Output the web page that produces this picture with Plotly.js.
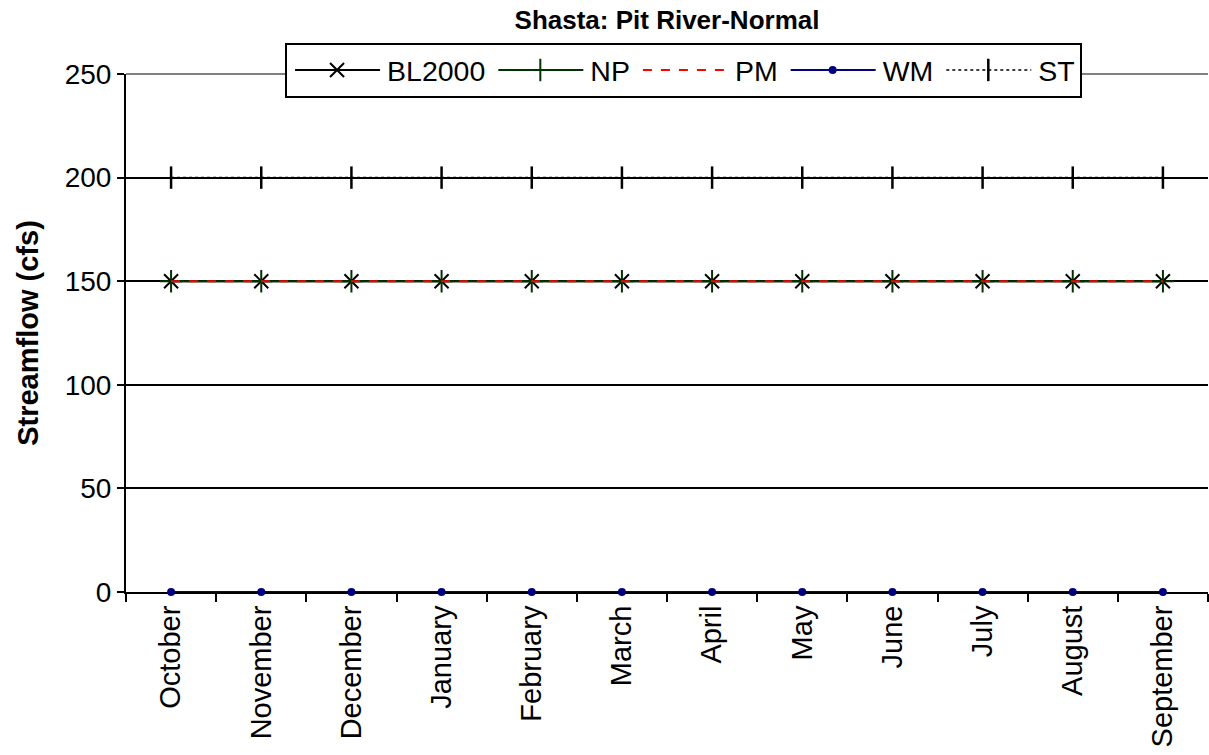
<!DOCTYPE html>
<html>
<head>
<meta charset="utf-8">
<script src="https://cdn.plot.ly/plotly-3.0.1.min.js"></script>
<style>html,body{margin:0;padding:0;background:#fff;}#chart{width:1209px;height:755px;}</style>
</head>
<body>
<div id="chart"></div>
<script>
var months = ["October","November","December","January","February","March","April","May","June","July","August","September"];
var BL2000 = [150,150,150,150,150,150,150,150,150,150,150,150];
var NP     = [150,150,150,150,150,150,150,150,150,150,150,150];
var PM     = [150,150,150,150,150,150,150,150,150,150,150,150];
var WM     = [0,0,0,0,0,0,0,0,0,0,0,0];
var ST     = [200,200,200,200,200,200,200,200,200,200,200,200];

var baseFont = "Liberation Sans, Arial, sans-serif";

var traces = [
  {name: "BL2000", x: months, y: BL2000, mode: "lines+markers", type: "scatter",
   line: {color: "#000000", width: 2},
   marker: {symbol: "x-thin", size: 14, line: {color: "#000000", width: 2}, color: "#000000"}},
  {name: "NP", x: months, y: NP, mode: "lines+markers", type: "scatter",
   line: {color: "#003300", width: 2},
   marker: {symbol: "cross-thin", size: 16, line: {color: "#003300", width: 2}, color: "#003300"}},
  {name: "PM", x: months, y: PM, mode: "lines", type: "scatter",
   line: {color: "#ff0000", width: 2, dash: "dash"}},
  {name: "WM", x: months, y: WM, mode: "lines+markers", type: "scatter", cliponaxis: false,
   line: {color: "#000080", width: 2},
   marker: {symbol: "circle", size: 8, color: "#000080"}},
  {name: "ST", x: months, y: ST, mode: "lines+markers", type: "scatter",
   line: {color: "#000000", width: 1.5, dash: "dot"},
   marker: {symbol: "line-ns", size: 16, line: {color: "#000000", width: 2.5}, color: "#000000"}}
];

var layout = {
  width: 1209, height: 755,
  margin: {l: 126, r: 1, t: 74, b: 163, pad: 0},
  paper_bgcolor: "#ffffff", plot_bgcolor: "#ffffff",
  font: {family: baseFont, color: "#000"},
  title: {text: "<b>Shasta: Pit River-Normal</b>", x: 0.5, xref: "paper", y: 0.973, yref: "container", yanchor: "middle",
          font: {family: baseFont, size: 26, color: "#000"}},
  showlegend: true,
  legend: {orientation: "h", x: 0.147, xanchor: "left", y: 1.06, yanchor: "top",
           bordercolor: "#000", borderwidth: 2, bgcolor: "#fff",
           font: {family: baseFont, size: 28.5, color: "#000"},
           itemwidth: 90, traceorder: "normal", tracegroupgap: 0},
  xaxis: {type: "category", range: [-0.5, 11.5], tickson: "boundaries", ticks: "outside", ticklen: 8,
          tickwidth: 2, tickcolor: "#000", showline: true, linecolor: "#000", linewidth: 2,
          showgrid: false, zeroline: false, tickangle: -90, layer: "below traces",
          tickfont: {family: baseFont, size: 29, color: "#000"}},
  yaxis: {range: [0, 250], tickvals: [0,50,100,150,200,250], ticks: "outside", ticklen: 7, tickwidth: 2,
          tickcolor: "#000", showline: true, linecolor: "#000", linewidth: 2,
          showgrid: true, gridcolor: "#000", gridwidth: 2, zeroline: false,
          tickfont: {family: baseFont, size: 28, color: "#000"},
          title: {text: "<b>Streamflow (cfs)</b>", standoff: 18,
                  font: {family: baseFont, size: 29, color: "#000"}}},
  shapes: [
    {type: "line", xref: "paper", yref: "paper", x0: 0, x1: 1, y0: 1, y1: 1,
     line: {color: "#808080", width: 2}, layer: "above"}
  ]
};

Plotly.newPlot("chart", traces, layout, {displayModeBar: false, staticPlot: true}).then(function (gd) {
  // lengthen legend line samples to resemble the original swatches
  var items = gd.querySelectorAll(".legend .traces");
  items.forEach(function (it) {
    it.querySelectorAll(".legendlines path").forEach(function (p) {
      p.setAttribute("d", "M8,0h85");
    });
    it.querySelectorAll(".legendpoints path").forEach(function (p) {
      p.setAttribute("transform", "translate(50,0)");
    });
  });
});
</script>
</body>
</html>
